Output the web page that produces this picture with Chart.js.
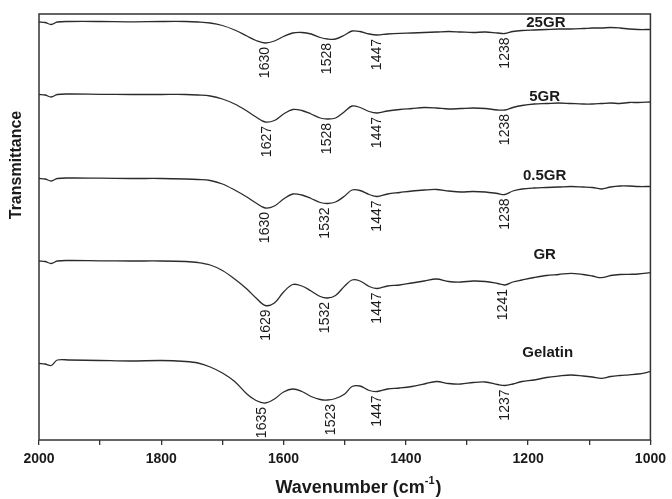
<!DOCTYPE html>
<html>
<head>
<meta charset="utf-8">
<script src="https://cdn.jsdelivr.net/npm/chart.js@4"></script>
<style>
  html, body { margin: 0; padding: 0; background: #fff; }
  #wrap { width: 672px; height: 499px; }
</style>
</head>
<body>
<div id="wrap"><canvas id="myChart"></canvas></div>
<script>
const wavenumbers = [2000, 1990, 1980, 1970, 1950, 1900, 1850, 1800, 1760, 1740, 1720, 1700, 1680, 1660, 1645,
  1630, 1615, 1600, 1585, 1570, 1555, 1540, 1528, 1515, 1500, 1488, 1475, 1460, 1447, 1430, 1410, 1390, 1370,
  1350, 1330, 1310, 1290, 1270, 1250, 1238, 1225, 1210, 1190, 1170, 1150, 1130, 1110, 1095, 1080, 1065, 1050,
  1035, 1020, 1000];

// stacked transmittance traces (arbitrary offset units)
const gr25 = [418, 417.5, 415.5, 418, 418.5, 418.5, 418.2, 418.5, 418.5, 418, 417, 414.5, 410, 404, 399.5,
  397, 399, 403.5, 407, 407.5, 406, 402.5, 401, 401, 405, 409, 408.5, 406, 405, 406, 406.7, 407, 407.5,
  408, 408.5, 408, 407.5, 408, 407, 406.5, 408.5, 409.5, 410, 410.5, 411, 411, 411.5, 412, 412, 412.5, 412,
  411, 410.5, 410.5];
const gr5 = [345.5, 345, 343, 345.5, 346, 345.7, 345.5, 345.5, 345.5, 345, 344, 341, 336, 329, 323,
  318, 319.5, 326, 330.5, 329.5, 326, 322, 321, 322, 328.5, 334, 332.5, 328.5, 327, 329, 330.5, 331.5, 332.5,
  332, 331, 331.5, 332, 331.5, 330, 330, 332.5, 334.5, 336, 336.5, 337, 336.5, 336, 336, 336.5, 337, 336.5,
  337.5, 337.5, 338];
const gr05 = [261.5, 261, 259, 261.5, 262, 261.8, 261.5, 261.5, 261, 260.5, 259.5, 256, 250, 243, 237,
  232, 234, 241, 246, 245, 241.5, 237.5, 236.5, 238, 244, 250, 249.5, 245.5, 243.5, 246, 247.5, 249, 250,
  250.5, 249, 248, 248.5, 248, 246.5, 245.5, 249, 251, 252, 252.5, 253, 253.5, 253, 252.5, 251, 253, 254,
  254, 253.5, 253.5];
const grOnly = [179, 178.5, 176.5, 179, 179.5, 179.2, 179, 179, 178.5, 177.5, 175, 169.5, 161, 151, 142,
  134.5, 137, 148, 155.5, 154, 149, 143.5, 142, 144.5, 154, 160, 159, 153.5, 151.5, 154, 155, 157, 159,
  161, 158.5, 158, 159, 158.5, 156.5, 155, 158, 160, 162.5, 164.5, 165.5, 166.7, 165.5, 164, 162.3, 164.5, 165.5,
  165.7, 166, 167.3];
const gelatin = [76.5, 76, 74.5, 80, 80, 79.5, 79, 79.5, 78.5, 77, 73, 67, 58.5, 46, 39.5,
  37, 41, 48, 51, 48.5, 43.5, 40.5, 40, 41.5, 46, 53.5, 54, 49.5, 48.5, 51, 52, 53.5, 56,
  58.5, 56.5, 56, 57.5, 58, 55.5, 54.5, 56, 58.5, 60, 62.5, 64, 65, 64, 63, 61.7, 63.5, 64.5,
  65.2, 66, 68.3];

const seriesNames = ['25GR', '5GR', '0.5GR', 'GR', 'Gelatin'];
const seriesValues = [gr25, gr5, gr05, grOnly, gelatin];

// marked band positions for each trace
const peakLabels = [
  [1630, 1528, 1447, 1238],
  [1627, 1528, 1447, 1238],
  [1630, 1532, 1447, 1238],
  [1629, 1532, 1447, 1241],
  [1635, 1523, 1447, 1237]
];

const xTicks = [2000, 1800, 1600, 1400, 1200, 1000];

// where the trace names sit (wavenumber, value)
const nameSpots = [[1171, 417.5], [1173, 343.3], [1173, 264.3], [1173, 185], [1168, 87]];

const ink = '#1a1a1a';

function nearestValue(values, wn) {
  let best = 0;
  for (let i = 1; i < wavenumbers.length; i++) {
    if (Math.abs(wavenumbers[i] - wn) < Math.abs(wavenumbers[best] - wn)) best = i;
  }
  return values[best];
}

// draws frame, trace names, band labels and axis titles
const annotate = {
  id: 'annotate',
  afterDraw(chart) {
    const c = chart.ctx;
    const area = chart.chartArea;
    const xs = chart.scales.x;
    const ys = chart.scales.y;

    c.save();
    c.strokeStyle = '#333';
    c.lineWidth = 1.5;
    c.strokeRect(area.left, area.top, area.right - area.left, area.bottom - area.top);

    c.fillStyle = ink;

    // band labels under each dip
    c.font = '14px Arial, "Liberation Sans", sans-serif';
    c.textAlign = 'right';
    c.textBaseline = 'middle';
    peakLabels.forEach((peaks, s) => {
      peaks.forEach(wn => {
        const px = xs.getPixelForValue(wn);
        const py = ys.getPixelForValue(nearestValue(seriesValues[s], wn)) + 4;
        c.save();
        c.translate(px, py);
        c.rotate(-Math.PI / 2);
        c.fillText(String(wn), 0, 0);
        c.restore();
      });
    });

    // trace names
    c.font = 'bold 15px Arial, "Liberation Sans", sans-serif';
    c.textAlign = 'center';
    seriesNames.forEach((name, s) => {
      c.fillText(name, xs.getPixelForValue(nameSpots[s][0]), ys.getPixelForValue(nameSpots[s][1]));
    });

    // y title
    c.save();
    c.font = 'bold 16px Arial, "Liberation Sans", sans-serif';
    c.translate(17, 165);
    c.rotate(-Math.PI / 2);
    c.fillText('Transmittance', 0, 0);
    c.restore();

    // x title with superscript
    const main = 'Wavenumber (cm';
    const sup = '-1';
    const tail = ')';
    c.font = 'bold 18px Arial, "Liberation Sans", sans-serif';
    const wMain = c.measureText(main).width;
    const wTail = c.measureText(tail).width;
    c.font = 'bold 11px Arial, "Liberation Sans", sans-serif';
    const wSup = c.measureText(sup).width;
    let x0 = 358 - (wMain + wSup + wTail) / 2;
    const y0 = 488;
    c.textAlign = 'left';
    c.font = 'bold 18px Arial, "Liberation Sans", sans-serif';
    c.fillText(main, x0, y0);
    c.font = 'bold 11px Arial, "Liberation Sans", sans-serif';
    c.fillText(sup, x0 + wMain, y0 - 7);
    c.font = 'bold 18px Arial, "Liberation Sans", sans-serif';
    c.fillText(tail, x0 + wMain + wSup + 1, y0);
    c.restore();
  }
};

const ctx = document.getElementById('myChart').getContext('2d');
new Chart(ctx, {
  type: 'line',
  data: {
    datasets: seriesValues.map((vals, s) => ({
      label: seriesNames[s],
      data: wavenumbers.map((wn, i) => ({ x: wn, y: vals[i] })),
      borderColor: '#2b2b2b',
      borderWidth: 1.3,
      pointRadius: 0,
      fill: false,
      tension: 0.35
    }))
  },
  options: {
    responsive: true,
    maintainAspectRatio: false,
    animation: false,
    layout: { padding: { left: 39, top: 14, right: 19, bottom: 0 } },
    plugins: {
      legend: { display: false },
      tooltip: { enabled: false }
    },
    scales: {
      x: {
        type: 'linear',
        reverse: true,
        min: 1000,
        max: 2000,
        afterFit: scale => { scale.height = 59; },
        afterBuildTicks: scale => {
          // major labels every 200, minor tick marks between
          const t = [];
          for (let i = 0; i < xTicks.length; i++) {
            t.push({ value: xTicks[i] });
            if (i < xTicks.length - 1) t.push({ value: (xTicks[i] + xTicks[i + 1]) / 2 });
          }
          scale.ticks = t;
        },
        ticks: {
          autoSkip: false,
          maxRotation: 0,
          padding: 6,
          color: ink,
          font: { family: 'Arial, "Liberation Sans", sans-serif', size: 14, weight: 'bold' },
          callback: v => (xTicks.includes(v) ? String(v) : '')
        },
        grid: { drawOnChartArea: false, tickLength: 5, color: '#333', lineWidth: 1.3 },
        border: { display: false }
      },
      y: {
        display: false,
        min: 0,
        max: 426
      }
    }
  },
  plugins: [annotate]
});
</script>
</body>
</html>
